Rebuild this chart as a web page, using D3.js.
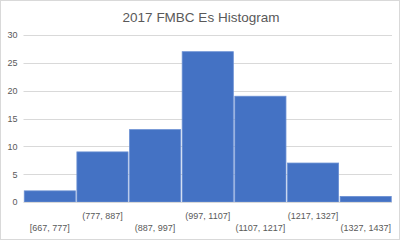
<!DOCTYPE html>
<html><head><meta charset="utf-8">
<script src="https://cdn.jsdelivr.net/npm/d3@7"></script>
<style>body{margin:0;background:#fff}svg{display:block}</style>
</head><body>
<script>
const title = "2017 FMBC Es Histogram";
const categories = ["[667, 777]","(777, 887]","(887, 997]","(997, 1107]","(1107, 1217]","(1217, 1327]","(1327, 1437]"];
const counts = [2, 9, 13, 27, 19, 7, 1];
const yTicks = [0, 5, 10, 15, 20, 25, 30];

const W = 400, H = 240;
const svg = d3.select("body").append("svg").attr("width", W).attr("height", H);
svg.append("rect").attr("x",0.5).attr("y",0.5).attr("width",W-1).attr("height",H-1)
  .attr("fill","#fff").attr("stroke","#d9d9d9");

const x = d3.scaleBand().domain(categories).range([23.5, 392]).padding(0);
const y = d3.scaleLinear().domain([0, 30]).range([202, 35]);

svg.append("text").attr("x", 201).attr("y", 22).attr("text-anchor","middle")
  .attr("font-family","Liberation Sans, Arial, sans-serif").attr("font-size", 13.5)
  .attr("fill","#595959").text(title);

// gridlines
svg.append("g").selectAll("line").data(yTicks.filter(d=>d>0)).join("line")
  .attr("x1", 23.5).attr("x2", 392).attr("y1", d=>Math.round(y(d))+0.5).attr("y2", d=>Math.round(y(d))+0.5)
  .attr("stroke","#d9d9d9").attr("stroke-width",1);

// y axis
const yAxis = d3.axisLeft(y).tickValues(yTicks).tickSize(0).tickPadding(6);
const ya = svg.append("g").attr("transform","translate(23.5,0)").call(yAxis);
ya.select(".domain").remove();
ya.selectAll("text").attr("fill","#595959").attr("font-size",9).attr("font-family","Liberation Sans, Arial, sans-serif");

// bars
svg.append("g").selectAll("rect").data(counts).join("rect")
  .attr("x", (d,i)=>x(categories[i])+0.75)
  .attr("width", x.bandwidth()-1.5)
  .attr("y", d=>y(d))
  .attr("height", d=>y(0)-y(d))
  .attr("fill","#4472C4").attr("stroke","#6a8fd3").attr("stroke-width",0.8);

// baseline
svg.append("line").attr("x1",23.5).attr("x2",392).attr("y1",202.5).attr("y2",202.5).attr("stroke","#d9d9d9");

// x axis labels staggered
const xAxis = d3.axisBottom(x).tickSize(0).tickPadding(0);
const xa = svg.append("g").attr("transform","translate(0,202)").call(xAxis);
xa.select(".domain").remove();
xa.selectAll("text").attr("fill","#595959").attr("font-size",9).attr("font-family","Liberation Sans, Arial, sans-serif")
  .attr("dy", null)
  .attr("y", (d,i)=> i%2===0 ? 29 : 17);
</script>
</body></html>
